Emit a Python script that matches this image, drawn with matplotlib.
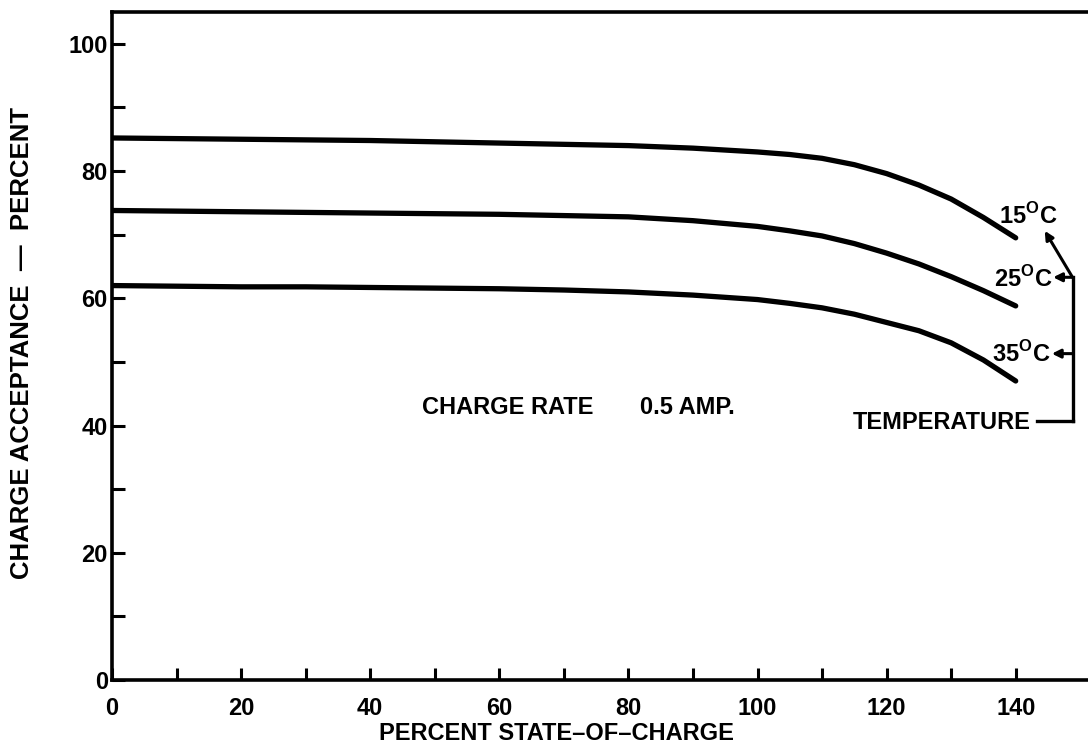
import matplotlib
matplotlib.use("Agg")
import matplotlib.pyplot as plt
from matplotlib.ticker import FixedLocator

plt.rcParams['font.family'] = ['Liberation Sans', 'DejaVu Sans']
plt.rcParams['font.weight'] = 'bold'
plt.rcParams['mathtext.fontset'] = 'custom'
plt.rcParams['mathtext.rm'] = 'Liberation Sans:bold'
plt.rcParams['mathtext.bf'] = 'Liberation Sans:bold'

# ---- data ----
state_of_charge = [0, 10, 20, 30, 40, 50, 60, 70, 80, 90, 100, 105, 110, 115, 120, 125, 130, 135, 140]
accept_15c = [85.2, 85.1, 85.0, 84.9, 84.8, 84.6, 84.4, 84.2, 84.0, 83.6, 83.0, 82.6, 82.0, 81.0, 79.6, 77.8, 75.6, 72.7, 69.5]
accept_25c = [73.8, 73.7, 73.6, 73.5, 73.4, 73.3, 73.2, 73.0, 72.8, 72.2, 71.3, 70.6, 69.8, 68.6, 67.1, 65.4, 63.4, 61.2, 58.8]
accept_35c = [62.0, 61.9, 61.8, 61.8, 61.7, 61.6, 61.5, 61.3, 61.0, 60.5, 59.8, 59.2, 58.5, 57.5, 56.2, 54.9, 53.0, 50.3, 47.0]
series_labels = ["15$^{\\mathrm{O}}$C", "25$^{\\mathrm{O}}$C", "35$^{\\mathrm{O}}$C"]
x_ticks = [0, 20, 40, 60, 80, 100, 120, 140]
x_minor_ticks = [10, 30, 50, 70, 90, 110, 130]
y_ticks = [0, 20, 40, 60, 80, 100]
y_minor_ticks = [10, 30, 50, 70, 90]

fig = plt.figure(figsize=(10.88, 7.52), dpi=100)
ax = fig.add_axes([112/1088, 1 - 680/752, 1 - 112/1088, (680 - 12)/752])

for ys in (accept_15c, accept_25c, accept_35c):
    ax.plot(state_of_charge, ys, color='black', lw=3.8, solid_capstyle='round',
            solid_joinstyle='round')

ax.set_xlim(0, 151.2)
ax.set_ylim(0, 105)
ax.set_xticks(x_ticks)
ax.set_yticks(y_ticks)
ax.xaxis.set_minor_locator(FixedLocator(x_minor_ticks))
ax.yaxis.set_minor_locator(FixedLocator(y_minor_ticks))
ax.tick_params(which='both', direction='in', length=9, width=2.2, color='black')
ax.tick_params(axis='x', which='major', pad=12, labelsize=17)
ax.tick_params(axis='y', which='major', pad=3, labelsize=17)
for lab in ax.get_xticklabels() + ax.get_yticklabels():
    lab.set_fontweight('bold')

ax.spines['right'].set_visible(False)
for s in ('left', 'bottom', 'top'):
    ax.spines[s].set_linewidth(2.6)

# curve labels
fs = 17
ax.text(141.9, 73.0, series_labels[0], ha='center', va='center', fontsize=fs)
ax.text(141.2, 63.1, series_labels[1], ha='center', va='center', fontsize=fs)
ax.text(140.9, 51.2, series_labels[2], ha='center', va='center', fontsize=fs)

# bracket and arrows
bx = 148.8
ax.plot([bx, bx], [63.3, 40.7], color='black', lw=2.4, clip_on=False)
ax.plot([143.3, bx], [40.7, 40.7], color='black', lw=2.4, clip_on=False)
arrow_kw = dict(arrowstyle='-|>,head_length=0.5,head_width=0.25', color='black', lw=2.2,
                shrinkA=0, shrinkB=0)
ax.annotate('', xy=(145.8, 63.3), xytext=(bx, 63.3), arrowprops=arrow_kw)
ax.annotate('', xy=(145.6, 51.3), xytext=(bx, 51.3), arrowprops=arrow_kw)
ax.annotate('', xy=(144.5, 70.6), xytext=(bx, 63.3), arrowprops=arrow_kw)

ax.text(142.3, 40.5, 'TEMPERATURE', ha='right', va='center', fontsize=fs)
ax.text(48.0, 42.9, 'CHARGE RATE', ha='left', va='center', fontsize=fs)
ax.text(81.8, 42.9, '0.5 AMP.', ha='left', va='center', fontsize=fs)

fig.text(556/1088, 1 - 733/752, 'PERCENT STATE\u2013OF\u2013CHARGE', ha='center', va='center',
         fontsize=fs, fontweight='bold')
fig.text(22/1088, 1 - 343/752, 'CHARGE ACCEPTANCE  \u2014  PERCENT', ha='center', va='center',
         rotation=90, fontsize=18.5, fontweight='bold')

fig.savefig('out.png', dpi=100, facecolor='white')
